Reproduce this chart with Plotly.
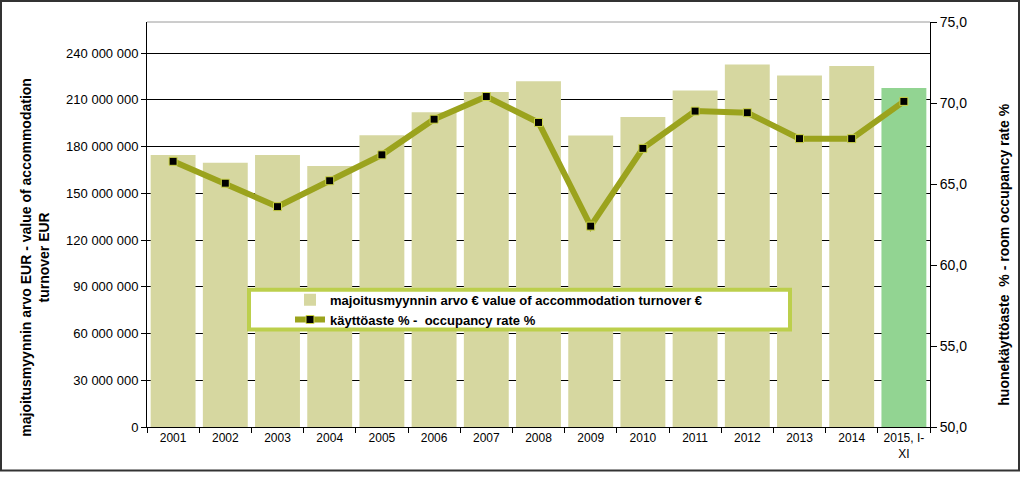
import plotly.graph_objects as go

# ---- data ----
categories = ["2001", "2002", "2003", "2004", "2005", "2006", "2007", "2008",
              "2009", "2010", "2011", "2012", "2013", "2014", "2015, I-<br>XI"]
turnover_eur = [174.6e6, 169.6e6, 174.6e6, 167.5e6, 187.3e6, 202.0e6, 215.0e6, 222.0e6,
                187.2e6, 199.0e6, 216.0e6, 232.7e6, 225.7e6, 231.7e6, 217.7e6]
occupancy_pct = [66.4, 65.05, 63.6, 65.2, 66.8, 69.0, 70.4, 68.8,
                 62.4, 67.2, 69.5, 69.4, 67.8, 67.8, 70.1]
bar_colors = ["#d6d7a0"] * 14 + ["#92d492"]

name_bar = "majoitusmyynnin arvo € value of accommodation turnover €"
name_line = "käyttöaste % -  occupancy rate %"
left_title = "majoitusmyynnin arvo EUR - value of accommodation<br>turnover EUR"
right_title = "huonekäyttöaste  % - room occupancy rate %"

# ---- layout geometry (pixels) ----
W, H = 1023, 477
L, R, T, B = 147, 930, 22, 427.5
pw, ph = R - L, B - T


def px(x):
    return (x - L) / pw


def py(y):
    return (B - y) / ph


FONT = "Liberation Sans, Arial, sans-serif"

fig = go.Figure()
fig.add_trace(go.Bar(
    x=categories, y=turnover_eur, name=name_bar,
    marker=dict(color=bar_colors, line=dict(width=0)),
    yaxis="y",
))
fig.add_trace(go.Scatter(
    x=categories, y=occupancy_pct, name=name_line, mode="lines+markers",
    line=dict(color="#9ba31d", width=6),
    marker=dict(symbol="square", size=8, color="black",
                line=dict(color="#d0d84a", width=1)),
    yaxis="y2",
))

fig.update_layout(
    width=W, height=H,
    margin=dict(l=L, r=W - R, t=T, b=H - B),
    paper_bgcolor="white", plot_bgcolor="white",
    separators=", ",
    bargap=0.14,
    font=dict(family=FONT, size=12, color="black"),
    showlegend=True,
    legend=dict(
        x=px(290), y=py(285), xanchor="left", yanchor="top",
        bgcolor="rgba(0,0,0,0)", borderwidth=0,
        font=dict(family=FONT, size=13, color="black", weight="bold"),
        tracegroupgap=0,
        traceorder="normal",
    ),
    xaxis=dict(
        type="category", range=[-0.5, len(categories) - 0.5],
        showline=True, linecolor="black", linewidth=1,
        ticks="outside", tickson="boundaries", ticklen=5, tickcolor="black",
        showgrid=False, tickfont=dict(size=12),
    ),
    yaxis=dict(
        range=[0, 260e6], dtick=30e6, tick0=0, tickformat=",d",
        showline=True, linecolor="black", linewidth=1,
        ticks="outside", ticklen=5, tickcolor="black",
        showgrid=True, gridcolor="black", gridwidth=1, zeroline=False,
        tickfont=dict(size=13),
    ),
    yaxis2=dict(
        overlaying="y", side="right", range=[50, 75], dtick=5, tick0=50,
        tickformat=".1f",
        showline=True, linecolor="black", linewidth=1,
        ticks="outside", ticklen=6, tickcolor="black",
        showgrid=False, zeroline=False, tickfont=dict(size=14),
    ),
    shapes=[
        # top plot border
        dict(type="line", xref="paper", yref="paper", x0=0, x1=1, y0=1, y1=1,
             line=dict(color="#9a9a9a", width=1)),
        # legend box
        dict(type="rect", xref="paper", yref="paper",
             x0=px(249), x1=px(790), y0=py(290), y1=py(330),
             fillcolor="white", line=dict(color="#bccf4c", width=4),
             layer="above"),
        # outer chart frame
        dict(type="rect", xref="paper", yref="paper",
             x0=px(1), x1=px(1019), y0=py(1), y1=py(471),
             fillcolor="rgba(0,0,0,0)", line=dict(color="#333333", width=2),
             layer="above"),
    ],
    annotations=[
        dict(text=left_title, xref="paper", yref="paper",
             x=px(35), y=py(258), xanchor="center", yanchor="middle",
             textangle=-90, showarrow=False,
             font=dict(family=FONT, size=14, color="black", weight="bold")),
        dict(text=right_title, xref="paper", yref="paper",
             x=px(1004), y=py(255), xanchor="center", yanchor="middle",
             textangle=-90, showarrow=False,
             font=dict(family=FONT, size=14, color="black", weight="bold")),
    ],
)

fig.write_html("out.html")
